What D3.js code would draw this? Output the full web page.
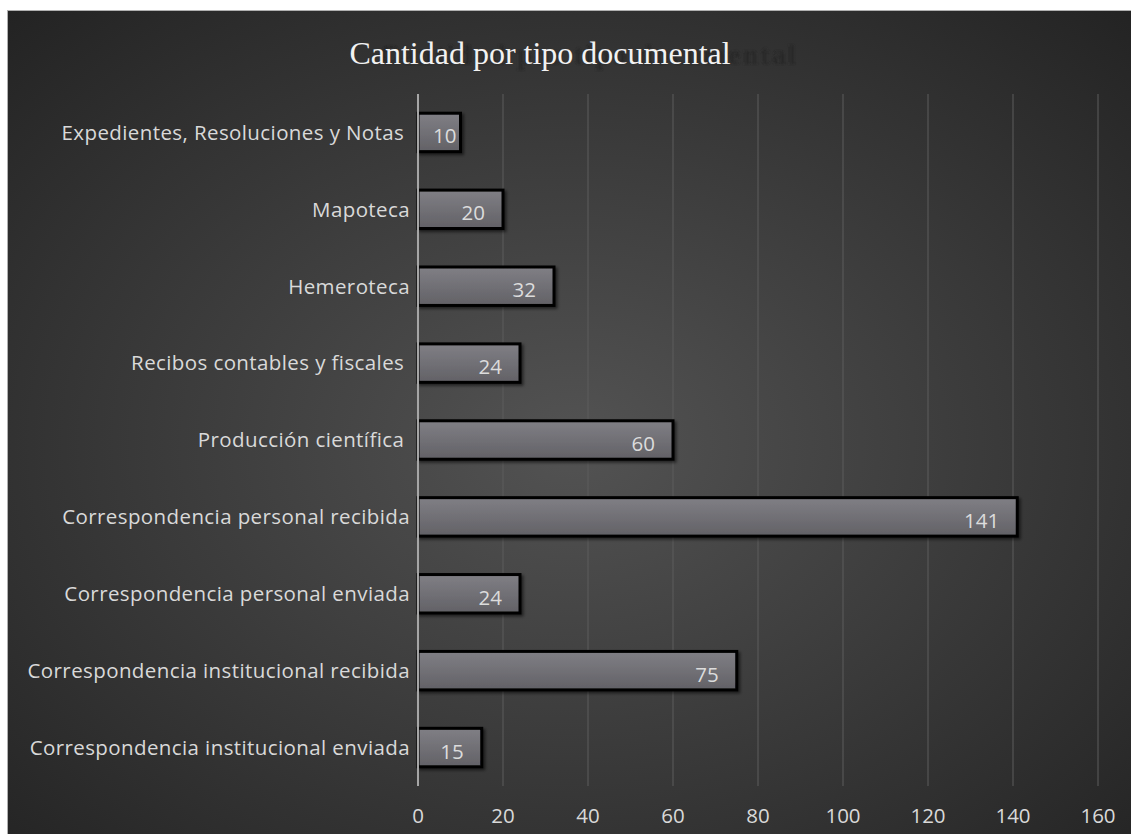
<!DOCTYPE html>
<html>
<head>
<meta charset="utf-8">
<script src="https://cdn.jsdelivr.net/npm/d3@7"></script>
<style>
  html, body { margin: 0; padding: 0; background: #fff; }
  svg { display: block; }
</style>
</head>
<body>
<svg></svg>
<script>
// Cantidad por tipo documental (horizontal bars)

const categories = [
  "Expedientes, Resoluciones y Notas ",
  "Mapoteca",
  "Hemeroteca",
  "Recibos contables y fiscales ",
  "Producción científica ",
  "Correspondencia personal recibida",
  "Correspondencia personal enviada",
  "Correspondencia institucional recibida",
  "Correspondencia institucional enviada"
];
const values = [10, 20, 32, 24, 60, 141, 24, 75, 15];
const xTicks = [0, 20, 40, 60, 80, 100, 120, 140, 160];
const title = "Cantidad por tipo documental";

const width = 1131;
const height = 834;

const svg = d3.select("svg").attr("width", width).attr("height", height);
const defs = svg.append("defs");

// background: dark radial gradient
const bg = defs.append("radialGradient")
  .attr("id", "bg")
  .attr("cx", "50%").attr("cy", "52%").attr("r", "72%");
bg.append("stop").attr("offset", "0%").attr("stop-color", "#535353");
bg.append("stop").attr("offset", "100%").attr("stop-color", "#232323");

// bar fill
const barGrad = defs.append("linearGradient")
  .attr("id", "barFill")
  .attr("x1", 0).attr("y1", 0).attr("x2", 0).attr("y2", 1);
barGrad.append("stop").attr("offset", "0%").attr("stop-color", "#807f85");
barGrad.append("stop").attr("offset", "100%").attr("stop-color", "#626166");

const shadow = defs.append("filter").attr("id", "shadow")
  .attr("x", "-10%").attr("y", "-30%").attr("width", "130%").attr("height", "180%");
shadow.append("feDropShadow")
  .attr("dx", 2).attr("dy", 2).attr("stdDeviation", 1.8)
  .attr("flood-color", "#000").attr("flood-opacity", 0.55);

const blur = defs.append("filter").attr("id", "blur");
blur.append("feGaussianBlur").attr("stdDeviation", 1.2);

// chart area
svg.append("rect")
  .attr("x", 7.5).attr("y", 10.5)
  .attr("width", width).attr("height", height)
  .attr("fill", "url(#bg)")
  .attr("stroke", "#b0b0b0").attr("stroke-width", 1);

// scales
const x = d3.scaleLinear().domain([0, 160]).range([418, 1098]);
const y = d3.scaleBand()
  .domain(categories)
  .range([94, 786])
  .paddingInner(0.5)
  .paddingOuter(0.25);

const labelFont = "'Open Sans', 'Noto Sans', sans-serif";
const labelSize = "20.5px";

// gridlines
svg.append("g")
  .selectAll("line")
  .data(xTicks.filter((d) => d > 0))
  .join("line")
  .attr("x1", (d) => x(d)).attr("x2", (d) => x(d))
  .attr("y1", 94).attr("y2", 786)
  .attr("stroke", "#5c5c5c")
  .attr("stroke-width", 1);

// x tick labels
svg.append("g")
  .selectAll("text")
  .data(xTicks)
  .join("text")
  .attr("x", (d) => x(d))
  .attr("y", 823)
  .attr("text-anchor", "middle")
  .attr("fill", "#d9d9d9")
  .style("font-family", labelFont)
  .style("font-size", labelSize)
  .text((d) => d);

// bars
const rows = categories.map((c, i) => ({ cat: c, value: values[i] }));

svg.append("g")
  .selectAll("rect")
  .data(rows)
  .join("rect")
  .attr("x", x(0))
  .attr("y", (d) => y(d.cat))
  .attr("width", (d) => x(d.value) - x(0))
  .attr("height", y.bandwidth())
  .attr("fill", "url(#barFill)")
  .attr("stroke", "#000")
  .attr("stroke-width", 3)
  .attr("filter", "url(#shadow)");

// axis line (drawn over bar left edges)
svg.append("line")
  .attr("x1", x(0)).attr("x2", x(0))
  .attr("y1", 94).attr("y2", 786)
  .attr("stroke", "#a6a6a6")
  .attr("stroke-width", 2);

// category labels
svg.append("g")
  .selectAll("text")
  .data(categories)
  .join("text")
  .attr("x", 410)
  .attr("y", (d) => y(d) + y.bandwidth() / 2)
  .attr("dy", "0.36em")
  .attr("text-anchor", "end")
  .attr("fill", "#d9d9d9")
  .attr("xml:space", "preserve")
  .style("white-space", "pre")
  .style("font-family", labelFont)
  .style("font-size", labelSize)
  .style("letter-spacing", "0.4px")
  .text((d) => d);

// value labels (inside end)
svg.append("g")
  .selectAll("text")
  .data(rows)
  .join("text")
  .attr("x", (d) => (x(d.value) - x(0) < 48 ? x(d.value) - 4 : x(d.value) - 18))
  .attr("y", (d) => y(d.cat) + y.bandwidth() / 2 + 11)
  .attr("text-anchor", "end")
  .attr("fill", "#dcdcdc")
  .style("font-family", labelFont)
  .style("font-size", labelSize)
  .text((d) => d.value);

// title, with its faint blurred echo behind
svg.append("text")
  .attr("x", 798)
  .attr("y", 64)
  .attr("text-anchor", "end")
  .attr("fill", "#262626")
  .attr("fill-opacity", 0.8)
  .attr("filter", "url(#blur)")
  .style("font-family", "'Liberation Serif', 'Times New Roman', serif")
  .style("font-size", "27px")
  .style("font-weight", "bold")
  .style("letter-spacing", "2.5px")
  .text(title);

svg.append("text")
  .attr("x", 540)
  .attr("y", 64)
  .attr("text-anchor", "middle")
  .attr("fill", "#f2f2f2")
  .style("font-family", "'Liberation Serif', 'Times New Roman', serif")
  .style("font-size", "32px")
  .text(title);
</script>
</body>
</html>
